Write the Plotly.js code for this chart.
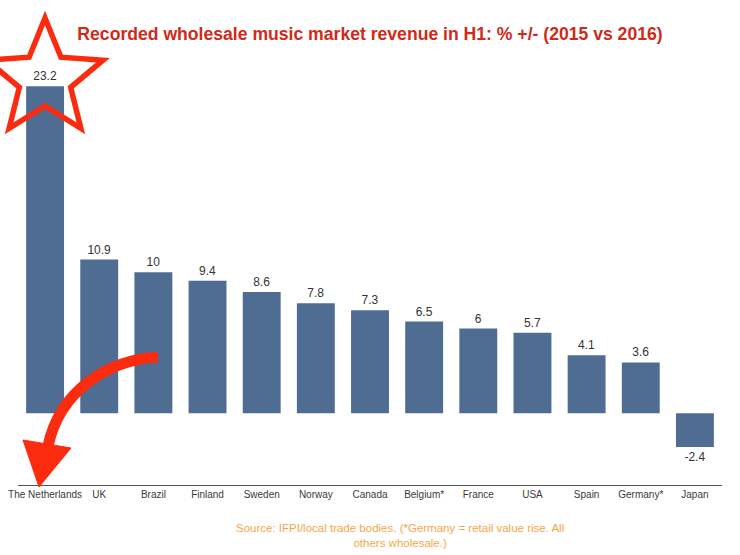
<!DOCTYPE html>
<html>
<head>
<meta charset="utf-8">
<script src="https://cdn.plot.ly/plotly-3.0.1.min.js"></script>
<style>
html,body{margin:0;padding:0;background:#fff;}
#chart{width:740px;height:555px;}
</style>
</head>
<body>
<div id="chart"></div>
<script>
const categories = ["The Netherlands","UK","Brazil","Finland","Sweden","Norway","Canada","Belgium*","France","USA","Spain","Germany*","Japan"];
const values = [23.2,10.9,10,9.4,8.6,7.8,7.3,6.5,6,5.7,4.1,3.6,-2.4];
const valueLabels = ["23.2","10.9","10","9.4","8.6","7.8","7.3","6.5","6","5.7","4.1","3.6","-2.4"];

const W = 740, H = 555;
const M = {l:18, r:18, t:20, b:70};
const pw = W - M.l - M.r, ph = H - M.t - M.b;
function px(x){ return (x - M.l) / pw; }
function py(y){ return (H - M.b - y) / ph; }

// star outline (pixel geometry converted to paper)
const cx = 45, cy = 79, R = 61, r = 27;
let star = "";
for (let i = 0; i < 10; i++) {
  const ang = -Math.PI/2 + i * Math.PI/5;
  const rad = (i % 2 === 0) ? R : r;
  const x = cx + rad * Math.cos(ang), y = cy + rad * Math.sin(ang);
  star += (i === 0 ? "M " : " L ") + px(x).toFixed(5) + "," + py(y).toFixed(5);
}
star += " Z";

const arrowBody = "M " + px(158)+","+py(357) + " C " + px(108)+","+py(360) + " " + px(60)+","+py(390) + " " + px(48)+","+py(446);
const arrowHead = "M " + px(23)+","+py(440) + " L " + px(71)+","+py(448) + " L " + px(39)+","+py(487) + " Z";

const trace = {
  type: "bar",
  x: categories,
  y: values,
  text: valueLabels,
  textposition: "outside",
  constraintext: "none",
  cliponaxis: false,
  textfont: {family: "Liberation Sans, Arial, sans-serif", size: 12, color: "#333"},
  marker: {color: "#4f6d92", line: {width: 0}},
  hoverinfo: "none"
};

const layout = {
  width: W, height: H,
  margin: M,
  paper_bgcolor: "#fff",
  plot_bgcolor: "#fff",
  showlegend: false,
  bargap: 0.3,
  title: {
    text: "<b>Recorded wholesale music market revenue in H1: % +/- (2015 vs 2016)</b>",
    font: {family: "Liberation Sans, Arial, sans-serif", size: 17.6, color: "#d02a18"},
    x: 0.5, xref: "container", xanchor: "center",
    y: 1 - 34/555, yref: "container", yanchor: "middle"
  },
  xaxis: {
    type: "category",
    showline: true, linecolor: "#555", linewidth: 1,
    ticks: "", showgrid: false, zeroline: false,
    tickfont: {family: "Liberation Sans, Arial, sans-serif", size: 10, color: "#3a3a3a"},
    fixedrange: true
  },
  yaxis: {
    range: [-5.1, 27.9],
    visible: false, showgrid: false, zeroline: false, fixedrange: true
  },
  shapes: [
    {type: "path", xref: "paper", yref: "paper", path: star, line: {color: "#fb2b0f", width: 5.5}, fillcolor: "rgba(0,0,0,0)", layer: "above"},
    {type: "path", xref: "paper", yref: "paper", path: arrowBody, line: {color: "#fb2b0f", width: 11}, fillcolor: "rgba(0,0,0,0)", layer: "above"},
    {type: "path", xref: "paper", yref: "paper", path: arrowHead, line: {color: "#fb2b0f", width: 1}, fillcolor: "#fb2b0f", layer: "above"}
  ],
  annotations: [
    {
      text: "Source: IFPI/local trade bodies. (*Germany = retail value rise. All<br>others wholesale.)",
      xref: "paper", yref: "paper",
      x: px(400), y: py(535), xanchor: "center", yanchor: "middle",
      showarrow: false, align: "center",
      font: {family: "Liberation Sans, Arial, sans-serif", size: 11.5, color: "#f5a64a"}
    }
  ]
};

Plotly.newPlot("chart", [trace], layout, {displayModeBar: false, staticPlot: true});
</script>
</body>
</html>
